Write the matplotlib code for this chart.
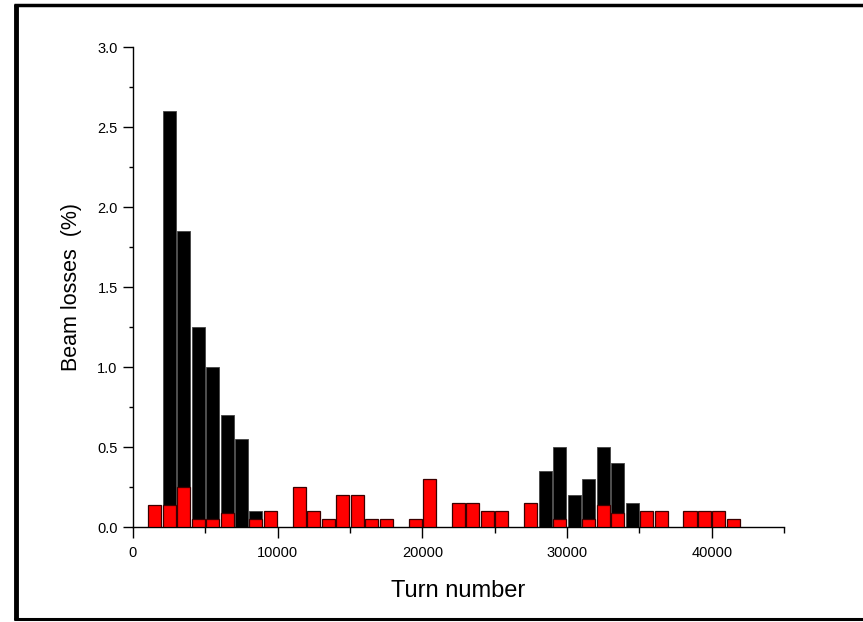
import numpy as np
import matplotlib.pyplot as plt
from matplotlib.lines import Line2D
from matplotlib.ticker import MultipleLocator

plt.rcParams['font.family'] = ['Liberation Sans', 'DejaVu Sans']

# Turn number bins (bin centres) and losses per bin (%)
turns = [1500, 2500, 3500, 4500, 5500, 6500, 7500, 8500, 9500, 10500,
         11500, 12500, 13500, 14500, 15500, 16500, 17500, 18500, 19500, 20500,
         21500, 22500, 23500, 24500, 25500, 26500, 27500, 28500, 29500, 30500,
         31500, 32500, 33500, 34500, 35500, 36500, 37500, 38500, 39500, 40500,
         41500]

losses_black = [0, 2.6, 1.85, 1.25, 1.0, 0.7, 0.55, 0.1, 0, 0,
                0, 0, 0, 0, 0, 0, 0, 0, 0, 0,
                0, 0, 0, 0, 0, 0, 0, 0.35, 0.5, 0.2,
                0.3, 0.5, 0.4, 0.15, 0, 0, 0, 0, 0, 0,
                0]

losses_red = [0.14, 0.14, 0.25, 0.05, 0.05, 0.09, 0, 0.05, 0.1, 0,
              0.25, 0.1, 0.05, 0.2, 0.2, 0.05, 0.05, 0, 0.05, 0.3,
              0, 0.15, 0.15, 0.1, 0.1, 0, 0.15, 0, 0.05, 0,
              0.05, 0.14, 0.09, 0, 0.1, 0.1, 0, 0.1, 0.1, 0.1,
              0.05]

x = np.array(turns)
black = np.array(losses_black)
red = np.array(losses_red)

fig = plt.figure(figsize=(8.63, 6.22), dpi=100)
ax = fig.add_axes([0.1541, 0.1527, 0.7544, 0.7717])

mb = black > 0
mr = red > 0
ax.bar(x[mb], black[mb], width=900, color='black', edgecolor='#444444', linewidth=0.6, zorder=2)
ax.bar(x[mr], red[mr], width=900, color='#ff0000', edgecolor='#3a0000', linewidth=0.9, zorder=3)

ax.set_xlim(0, 45000)
ax.set_ylim(0, 3.0)

ax.spines['top'].set_visible(False)
ax.spines['right'].set_visible(False)
for s in ['left', 'bottom']:
    ax.spines[s].set_linewidth(1.0)

ax.set_xticks([0, 10000, 20000, 30000, 40000])
ax.xaxis.set_minor_locator(MultipleLocator(5000))
ax.yaxis.set_major_locator(MultipleLocator(0.5))
ax.yaxis.set_minor_locator(MultipleLocator(0.25))
ax.set_yticklabels(['%.1f' % v for v in ax.get_yticks()])

ax.tick_params(axis='x', which='major', direction='out', length=8, width=1, labelsize=10.5, pad=6)
ax.tick_params(axis='x', which='minor', direction='out', length=4, width=1)
ax.tick_params(axis='y', which='major', direction='out', length=7, width=1, labelsize=10.5, pad=4)
ax.tick_params(axis='y', which='minor', direction='out', length=3, width=1)

ax.set_xlabel('Turn number', fontsize=17, labelpad=14)
ax.set_ylabel('Beam losses  (%)', fontsize=15.5, labelpad=11)

# outer frame (left, top, bottom)
fig.add_artist(Line2D([16 / 863, 16 / 863], [0.004, 0.993], color='black', lw=3.5, solid_capstyle='butt'))
fig.add_artist(Line2D([14 / 863, 1.0], [1 - 5 / 622, 1 - 5 / 622], color='black', lw=2.5, solid_capstyle='butt'))
fig.add_artist(Line2D([14 / 863, 1.0], [1 - 619 / 622, 1 - 619 / 622], color='black', lw=2.2, solid_capstyle='butt'))

fig.savefig('out.png', dpi=100)
